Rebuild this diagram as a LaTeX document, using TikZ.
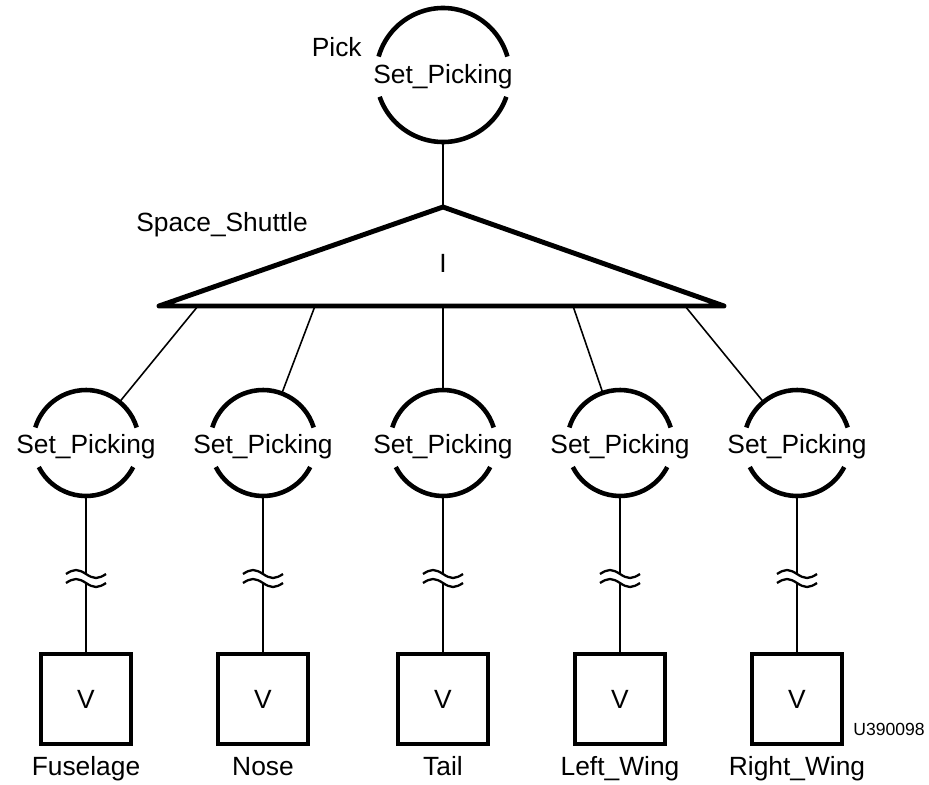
\documentclass[tikz,border=0pt]{standalone}
\usepackage{fontspec}
\setmainfont{Liberation Sans}
\usetikzlibrary{positioning,calc}
\tikzset{
  txt/.style   ={font=\fontsize{15}{18}\selectfont,inner sep=0pt},
  setp/.style  ={circle,minimum size=2.12cm,inner sep=0pt,outer sep=0pt},
  ring/.style  ={line width=2.6pt},
  tri/.style   ={line width=2.8pt,line join=round},
  vbox/.style  ={draw,line width=2.3pt,minimum size=1.8cm,outer sep=0pt,txt},
  link/.style  ={line width=0.9pt},
  brk/.style   ={line width=1.3pt},
  tag/.style   ={font=\fontsize{10}{12}\selectfont,inner sep=0pt},
}

\begin{document}
\begin{tikzpicture}[x=0.02cm,y=-0.02cm]
\useasboundingbox (0,0) rectangle (929,784);

% top: picking set on the whole structure
\node[setp,minimum size=2.68cm] (top) at (443,75) {};
\node[txt] (toptxt) at ($(top)+(0,2)$) {Set\_Picking};
\draw[ring] (top.16) arc[start angle=16,end angle=164,radius=1.34cm];
\draw[ring] (top.199) arc[start angle=199,end angle=341,radius=1.34cm];
\node[txt,anchor=base east] (pick) at ($(top.west)+(-14,-18)$) {Pick};

% instance triangle
\coordinate (apex) at (443,207);
\coordinate (tl) at (159,306);
\coordinate (tr) at (724,306);
\draw[tri] (apex) -- (tl) -- (tr) -- cycle;
\node[txt] (inst) at (443,263) {I};
\node[txt] (shuttle) at (222,225) {Space\_Shuttle};
\draw[link] (top) -- (apex);

% one branch per part
\foreach \n/\x/\bx/\part in {1/86/198/Fuselage, 2/263/315/Nose, 3/443/443/Tail,
                             4/620/573/Left\_Wing, 5/797/685/Right\_Wing} {
  \coordinate (b\n) at (\bx,306);
  \node[setp] (c\n) at (\x,443) {};
  \node[txt] (s\n) at ($(c\n)+(0,4)$) {Set\_Picking};
  \draw[ring] (c\n.17) arc[start angle=17,end angle=163,radius=1.06cm];
  \draw[ring] (c\n.207) arc[start angle=207,end angle=333,radius=1.06cm];
  \draw[link] (b\n) -- (c\n);
  \coordinate (k\n) at (\x,574);
  \coordinate (m\n) at (\x,583);
  \node[vbox] (v\n) at (\x,699) {V};
  \node[txt,below=6.4mm of v\n.south,anchor=base] (p\n) {\part};
  \draw[link] (c\n) -- (k\n);
  \draw[link] (m\n) -- (v\n);
  \draw[brk] ($(k\n)+(-20,0)$) sin ++(10,-4) cos ++(10,4) sin ++(10,4) cos ++(10,-4);
  \draw[brk] ($(m\n)+(-20,0)$) sin ++(10,-4) cos ++(10,4) sin ++(10,4) cos ++(10,-4);
}

\node[tag,anchor=base west] (fig) at ($(v5.south east)+(11,-9)$) {U390098};
\end{tikzpicture}
\end{document}
